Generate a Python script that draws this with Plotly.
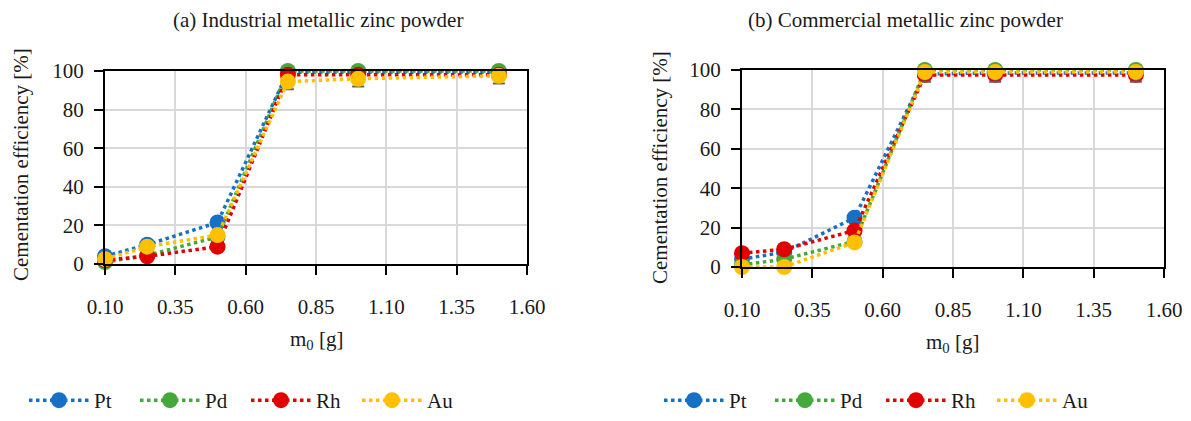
import plotly.graph_objects as go

# ---------------- data ----------------
m0 = [0.10, 0.25, 0.50, 0.75, 1.00, 1.50]
series_names = ["Pt", "Pd", "Rh", "Au"]

# (a) Industrial metallic zinc powder
a_Pt = [4.0, 10.0, 21.5, 99.5, 99.5, 99.5]
a_Pd = [1.0, 4.5, 14.0, 100.0, 100.0, 100.0]
a_Rh = [2.0, 4.0, 9.0, 98.0, 98.0, 98.0]
a_Au = [2.5, 9.0, 15.0, 94.5, 96.0, 97.5]
a_Au_err = [0, 0, 0, 4.0, 4.0, 4.0]

# (b) Commercial metallic zinc powder
b_Pt = [4.0, 7.5, 25.0, 98.0, 98.5, 98.5]
b_Pd = [1.0, 4.0, 13.0, 100.0, 100.0, 100.0]
b_Rh = [7.0, 9.0, 18.5, 97.5, 97.5, 97.5]
b_Au = [0.0, 0.0, 12.5, 99.0, 99.0, 99.0]
b_Au_err = [0, 0, 0, 5.0, 5.0, 5.0]

x_ticks = [0.10, 0.35, 0.60, 0.85, 1.10, 1.35, 1.60]
y_ticks = [0, 20, 40, 60, 80, 100]

colors = ["#1570C6", "#45A83C", "#E00000", "#FFC000"]

W, H = 1191, 421
FONT = "'Liberation Serif', 'Times New Roman', serif"
FS = 21

fig = go.Figure()

panels = [
    ("x", "y", "legend", [a_Pt, a_Pd, a_Rh, a_Au], a_Au_err),
    ("x2", "y2", "legend2", [b_Pt, b_Pd, b_Rh, b_Au], b_Au_err),
]

for xa, ya, lg, data, err in panels:
    for name, vals, col in zip(series_names, data, colors):
        kw = {}
        if name == "Au":
            kw["error_y"] = dict(type="data", symmetric=False, array=[0] * len(err),
                                 arrayminus=err, color="#606060", thickness=2, width=6)
        fig.add_trace(go.Scatter(
            x=m0, y=vals, name=name, mode="lines+markers",
            line=dict(color=col, width=3.5, dash="dot"),
            marker=dict(color=col, size=16, symbol="circle"),
            xaxis=xa, yaxis=ya, legend=lg, cliponaxis=False, **kw))

axis_common = dict(
    showline=True, linecolor="black", linewidth=2, mirror=True,
    showgrid=True, gridcolor="#D9D9D9", gridwidth=1.5,
    ticks="outside", ticklen=9, tickwidth=2, tickcolor="black",
    tickfont=dict(family=FONT, size=FS, color="#1a1a1a"),
    zeroline=False, automargin=False,
)

def px_x(p):
    return p / W

def px_y(p):
    return 1 - p / H

legend_common = dict(orientation="h", yanchor="bottom", xanchor="left",
                     font=dict(family=FONT, size=FS),
                     entrywidth=36, entrywidthmode="pixels",
                     itemwidth=60, tracegroupgap=0, bgcolor="rgba(0,0,0,0)")

fig.update_layout(
    width=W, height=H,
    margin=dict(l=0, r=0, t=0, b=0, autoexpand=False),
    paper_bgcolor="white", plot_bgcolor="white",
    font=dict(family=FONT, size=FS, color="#1a1a1a"),
    xaxis=dict(domain=[px_x(105), px_x(527)], range=[0.10, 1.60],
               tickvals=x_ticks, tickformat=".2f", anchor="y",
               ticklabelstandoff=14, **axis_common),
    yaxis=dict(domain=[px_y(264), px_y(71)], range=[0, 100],
               tickvals=y_ticks, anchor="x", ticklabelstandoff=6, **axis_common),
    xaxis2=dict(domain=[px_x(742), px_x(1164)], range=[0.10, 1.60],
                tickvals=x_ticks, tickformat=".2f", anchor="y2",
                ticklabelstandoff=14, **axis_common),
    yaxis2=dict(domain=[px_y(267), px_y(70)], range=[0, 100],
                tickvals=y_ticks, anchor="x2", ticklabelstandoff=6, **axis_common),
    legend=dict(x=px_x(24), y=0, **legend_common),
    legend2=dict(x=px_x(659), y=0, **legend_common),
)

ann_font = dict(family=FONT, size=FS, color="#1a1a1a")
annotations = [
    dict(text="(a) Industrial metallic zinc powder", x=px_x(318), y=px_y(20)),
    dict(text="(b) Commercial metallic zinc powder", x=px_x(905), y=px_y(20)),
    dict(text="m<sub>0</sub> [g]", x=px_x(316), y=px_y(340)),
    dict(text="m<sub>0</sub> [g]", x=px_x(952), y=px_y(343)),
    dict(text="Cementation efficiency [%]", x=px_x(21), y=px_y(165), textangle=-90),
    dict(text="Cementation efficiency [%]", x=px_x(660), y=px_y(168), textangle=-90),
]
for a in annotations:
    fig.add_annotation(xref="paper", yref="paper", showarrow=False,
                       xanchor="center", yanchor="middle", font=ann_font, **a)

fig.write_html("out.html")
